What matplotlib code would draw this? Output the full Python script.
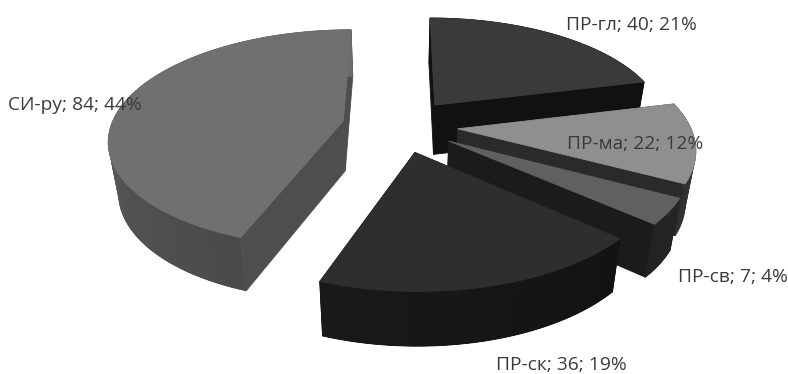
import numpy as np
import matplotlib.pyplot as plt
from matplotlib.colors import to_rgb

# data
names = ["ПР-гл", "ПР-ма", "ПР-св", "ПР-ск", "СИ-ру"]
values = [40, 22, 7, 36, 84]

# shades for each slice: top, radial wall, outer wall (start of arc, end of arc)
top_col = ["#3a3a3a", "#8f8f8f", "#606060", "#2e2e2e", "#707070"]
side_col = ["#111111", "#2a2a2a", "#1b1b1b", "#141414", "#4e4e4e"]
arc_from = ["#111111", "#3c3c3c", "#262626", "#131313", "#4a4a4a"]
arc_to = ["#111111", "#303030", "#222222", "#191919", "#6c6c6c"]

# label anchors (left edge, middle)
label_x = [566, 567, 678, 496, 8]
label_y = [25, 144, 277, 365, 105]

# perspective of the pie plane
CX, CY = 400, 125.5
SX, SY, PERSP = 232, 107, 0.16
DEPTH = 50
EXPLODE = 0.25


def project(x, y, z=0.0):
    w = 1 + PERSP * y
    d = DEPTH / (1 + 0.07 * y)
    shrink = 1 - 0.035 * z  # the lower face sits further from the viewer
    return CX + SX * x / w * shrink, CY - SY * y / w + z * d


def poly(ax, xs, ys, color, lw=0.6):
    ax.fill(xs, ys, color=color, lw=lw)


def draw_slice(ax, a0, a1, i):
    mid = (a0 + a1) / 2
    ox, oy = EXPLODE * np.sin(mid), EXPLODE * np.cos(mid)
    t = np.linspace(a0, a1, 80)
    rim_x, rim_y = ox + np.sin(t), oy + np.cos(t)

    # straight walls, back one first
    for a in (a0, a1):
        ex, ey = ox + np.sin(a), oy + np.cos(a)
        x1, y1 = project(np.array([ox, ex]), np.array([oy, ey]))
        x2, y2 = project(np.array([ex, ox]), np.array([ey, oy]), 1.0)
        poly(ax, np.r_[x1, x2], np.r_[y1, y2], side_col[i])

    # outer wall: solid base, then overlapping strips so the shade changes along the arc
    c0, c1 = np.array(to_rgb(arc_from[i])), np.array(to_rgb(arc_to[i]))
    xa, ya = project(rim_x, rim_y)
    xb, yb = project(rim_x[::-1], rim_y[::-1], 1.0)
    poly(ax, np.r_[xa, xb], np.r_[ya, yb], (c0 + c1) / 2)
    for k in range(len(t) - 1):
        f = k / (len(t) - 2)
        sx, sy = rim_x[k:k + 3], rim_y[k:k + 3]
        xa, ya = project(sx, sy)
        xb, yb = project(sx[::-1], sy[::-1], 1.0)
        poly(ax, np.r_[xa, xb], np.r_[ya, yb], c0 + (c1 - c0) * f, lw=0)

    # top face
    xs, ys = project(np.r_[ox, rim_x], np.r_[oy, rim_y])
    poly(ax, xs, ys, top_col[i])


fig = plt.figure(figsize=(7.88, 3.74), dpi=100)
ax = fig.add_axes([0, 0, 1, 1])
ax.set_xlim(0, 788)
ax.set_ylim(374, 0)
ax.axis("off")

total = sum(values)
edges = np.r_[0, np.cumsum(values)] / total * 2 * np.pi

# back to front
for i in [4, 0, 1, 2, 3]:
    draw_slice(ax, edges[i], edges[i + 1], i)

for i, name in enumerate(names):
    ax.text(label_x[i], label_y[i], f"{name}; {values[i]}; {values[i] / total * 100:.0f}%",
            ha="left", va="center", fontsize=13.8, color="#3a3a3a", family="Open Sans")

fig.savefig("out.png", dpi=100)
